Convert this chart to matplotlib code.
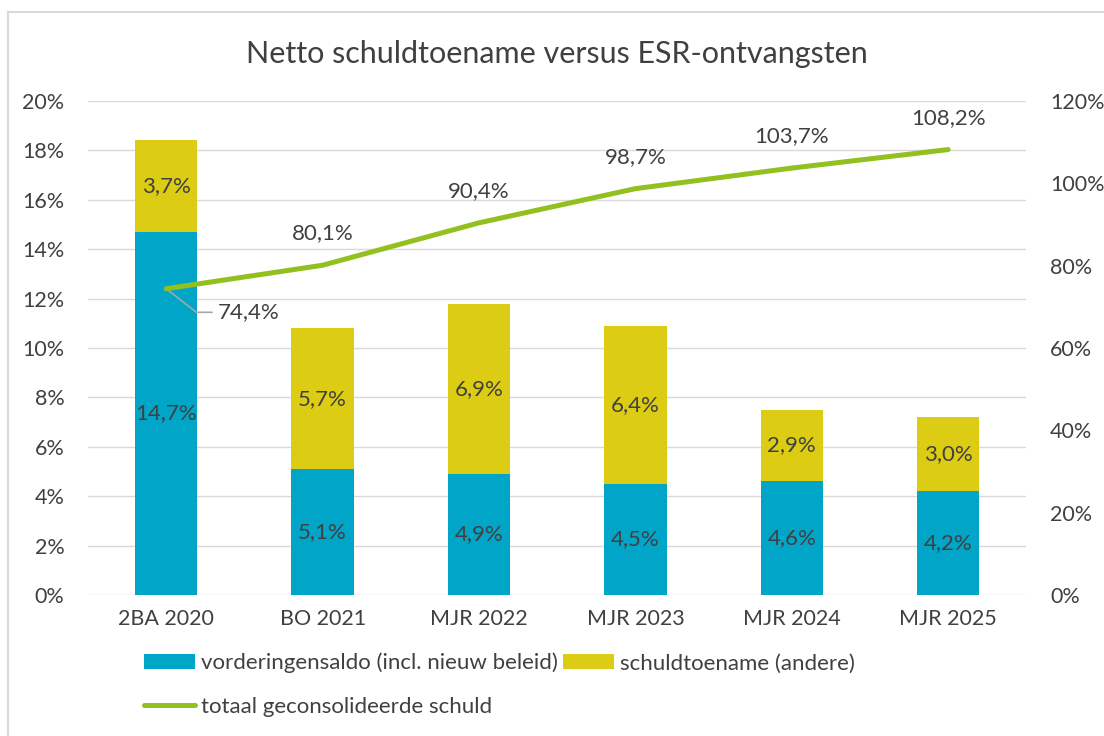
import matplotlib.pyplot as plt
from matplotlib.lines import Line2D
import numpy as np

plt.rcParams['font.family'] = ['Lato', 'DejaVu Sans']

# data
categories = ['2BA 2020', 'BO 2021', 'MJR 2022', 'MJR 2023', 'MJR 2024', 'MJR 2025']
vorderingensaldo = [14.7, 5.1, 4.9, 4.5, 4.6, 4.2]
schuldtoename = [3.7, 5.7, 6.9, 6.4, 2.9, 3.0]
totale_schuld = [74.4, 80.1, 90.4, 98.7, 103.7, 108.2]

blue = '#00A5C8'
yellow = '#DCCC13'
green = '#92C01F'
txt = '#404040'

fig = plt.figure(figsize=(11.04, 7.36), dpi=100)
ax = fig.add_axes([0.0797, 0.1916, 0.85, 0.6712])
ax2 = ax.twinx()

x = np.arange(len(categories))
b1 = ax.bar(x, vorderingensaldo, width=0.4, color=blue, zorder=2)
b2 = ax.bar(x, schuldtoename, width=0.4, bottom=vorderingensaldo, color=yellow, zorder=2)

# labels in the bars
for i in range(len(x)):
    ax.text(x[i], vorderingensaldo[i] / 2, f'{vorderingensaldo[i]:.1f}%'.replace('.', ','),
            ha='center', va='center', fontsize=16, color=txt, zorder=3)
    ax.text(x[i], vorderingensaldo[i] + schuldtoename[i] / 2, f'{schuldtoename[i]:.1f}%'.replace('.', ','),
            ha='center', va='center', fontsize=16, color=txt, zorder=3)

line, = ax2.plot(x, totale_schuld, color=green, lw=3.6, solid_capstyle='round', zorder=4)

# labels for the line
for i in range(len(x)):
    lab = f'{totale_schuld[i]:.1f}%'.replace('.', ',')
    if i == 0:
        ax2.annotate(lab, (x[i], totale_schuld[i]), xytext=(37, -17), textcoords='offset points',
                     ha='left', va='center', fontsize=16, color=txt,
                     arrowprops=dict(arrowstyle='-', color='#A6A6A6', lw=1.2, shrinkA=2, shrinkB=0,
                                     connectionstyle='angle,angleA=180,angleB=-38'))
    else:
        ax2.annotate(lab, (x[i], totale_schuld[i]), xytext=(0, 23), textcoords='offset points',
                     ha='center', va='center', fontsize=16, color=txt)

ax.set_ylim(0, 20)
ax.set_yticks(np.arange(0, 21, 2))
ax.set_yticklabels([f'{v}%' for v in range(0, 21, 2)])
ax2.set_ylim(0, 120)
ax2.set_yticks(np.arange(0, 121, 20))
ax2.set_yticklabels([f'{v}%' for v in range(0, 121, 20)])
ax.set_xlim(-0.5, len(x) - 0.5)
ax.set_xticks(x)
ax.set_xticklabels(categories)

ax.grid(axis='y', color='#D9D9D9', lw=1, zorder=0)
ax.set_axisbelow(True)
for a in (ax, ax2):
    for s in a.spines.values():
        s.set_visible(False)
    a.tick_params(length=0, labelsize=15.5, colors=txt)
ax.tick_params(axis='y', pad=17)
ax.tick_params(axis='x', pad=10)
ax2.tick_params(pad=17)

ax.set_title('Netto schuldtoename versus ESR-ontvangsten', fontsize=22, color=txt, pad=27)

fig.legend([b1, line, b2],
           ['vorderingensaldo (incl. nieuw beleid)', 'totaal geconsolideerde schuld', 'schuldtoename (andere)'],
           ncol=2, loc='upper left', bbox_to_anchor=(0.1225, 0.125), frameon=False, fontsize=16,
           labelcolor=txt, handlelength=2.3, handletextpad=0.27, columnspacing=0.22, labelspacing=1.06,
           borderaxespad=0)

# chart border (left and top edges visible)
fig.add_artist(Line2D([8 / 1104, 8 / 1104], [0, 1 - 12 / 736], transform=fig.transFigure,
                      color='#D9D9D9', lw=1.5))
fig.add_artist(Line2D([8 / 1104, 1], [1 - 12 / 736, 1 - 12 / 736], transform=fig.transFigure,
                      color='#D9D9D9', lw=1.5))

fig.savefig('out.png', dpi=100)
